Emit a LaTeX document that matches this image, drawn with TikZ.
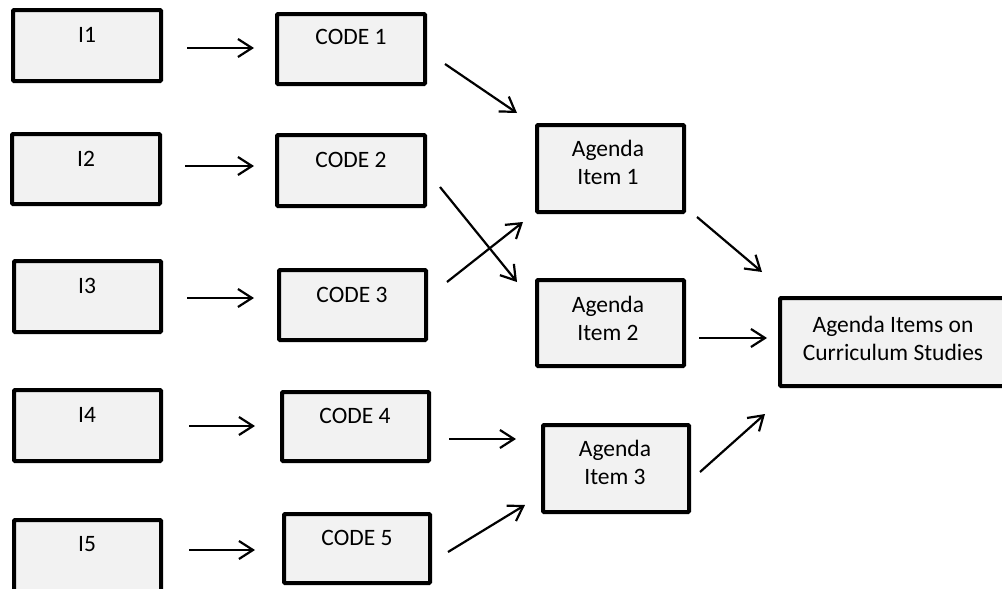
\documentclass[tikz,border=0pt]{standalone}
\usepackage{fontspec}
\setmainfont{Carlito}
\usetikzlibrary{arrows.meta}
\definecolor{boxfill}{HTML}{F2F2F2}
\tikzset{
  box/.style={draw=black, line width=4pt, fill=boxfill, rounded corners=1pt, inner sep=0pt},
  lbl/.style={anchor=base, font=\fontsize{23.5}{28}\selectfont, inner sep=0pt, align=center, text=black},
  arr/.style={line width=2.2pt, -{Straight Barb[length=14pt,width=18pt]}},
}
\newcommand\mybx[5]{\node[box, minimum width={#4-#2-4}, minimum height={#5-#3-4}] (#1) at ({(#2+#4)/2},{(#3+#5)/2}) {};}
\newcommand\myarr[5]{\coordinate (#1s) at (#2,#3); \coordinate (#1e) at (#4,#5); \draw[arr] (#1s) -- (#1e);}
\begin{document}
\begin{tikzpicture}[x=1pt,y=-1pt]
\useasboundingbox (0,0) rectangle (1002,589);
\clip (0,0) rectangle (1002,589);
% input boxes
\mybx{i1}{11}{8}{163}{83}
\mybx{i2}{10}{132}{162}{206}
\mybx{i3}{12}{259}{163}{334}
\mybx{i4}{12}{388}{163}{463}
\mybx{i5}{12}{518}{163}{600}
% code boxes
\mybx{c1}{275}{12}{427}{86}
\mybx{c2}{275}{133}{427}{208}
\mybx{c3}{277}{268}{428}{342}
\mybx{c4}{280}{390}{431}{463}
\mybx{c5}{282}{512}{432}{585}
% agenda boxes
\mybx{a1}{535}{123}{686}{214}
\mybx{a2}{535}{278}{686}{368}
\mybx{a3}{541}{423}{691}{514}
\mybx{f}{778}{296}{1010}{388}
% labels
\node[lbl] (i1t) at (87,42) {I1};
\node[lbl] (i2t) at (86,166) {I2};
\node[lbl] (i3t) at (87,293) {I3};
\node[lbl] (i4t) at (87,422) {I4};
\node[lbl] (i5t) at (87,551) {I5};
\node[lbl] (c1t) at (351,44) {CODE 1};
\node[lbl] (c2t) at (351,167) {CODE 2};
\node[lbl] (c3t) at (352,302) {CODE 3};
\node[lbl] (c4t) at (355,423) {CODE 4};
\node[lbl] (c5t) at (357,545) {CODE 5};
\node[lbl] (a1t) at (608,184) {Agenda\\Item 1};
\node[lbl] (a2t) at (608,340) {Agenda\\Item 2};
\node[lbl] (a3t) at (615,484) {Agenda\\Item 3};
\node[lbl] (ft) at (893,360) {Agenda Items on\\Curriculum Studies};
% arrows
\myarr{i1c1}{187}{48}{254}{48}
\myarr{i2c2}{185}{166}{254}{166}
\myarr{i3c3}{187}{298}{254}{298}
\myarr{i4c4}{189}{426}{255}{426}
\myarr{i5c5}{189}{550}{255}{550}
\myarr{c1a1}{445}{64}{517}{113}
\myarr{c2a2}{440}{187}{517}{282}
\myarr{c3a1}{447}{282}{523}{222}
\myarr{c4a3}{449}{439}{516}{439}
\myarr{c5a3}{448}{552}{525}{505}
\myarr{a1f}{697}{217}{762}{272}
\myarr{a2f}{699}{338}{767}{338}
\myarr{a3f}{700}{472}{765}{414}
\end{tikzpicture}
\end{document}
